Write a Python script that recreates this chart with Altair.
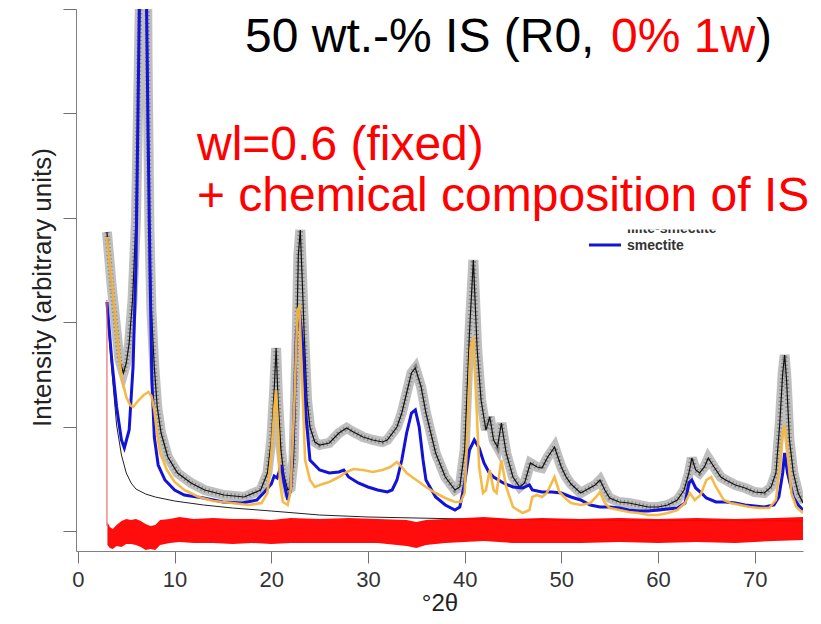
import altair as alt
import pandas as pd

# ---- data (x = degrees 2-theta, y = intensity, arbitrary units) ----
calc_x = [3.0, 3.5, 4.0, 4.3, 4.7, 5.0, 5.3, 5.65, 6.0, 6.2, 6.4, 6.6, 6.85, 7.05, 7.2, 7.4, 7.6, 7.9,
          8.2, 8.6, 9.3, 10.3, 11.7, 13.1, 15.1, 17.2, 18.9, 19.6, 20.0, 20.3, 20.5, 20.7, 21.0, 21.3,
          21.7, 22.0, 22.3, 22.6, 22.8, 23.0, 23.2, 23.4, 23.7, 24.0, 24.5, 25, 26, 27, 27.8, 28.5,
          29.5, 30.5, 31.5, 32, 33, 33.5, 34, 34.5, 34.9, 35.5, 36, 36.5, 37, 38, 39, 39.5, 40, 40.5,
          40.9, 41.3, 41.7, 42.2, 42.6, 43.0, 43.4, 43.8, 44.3, 45, 45.7, 46.2, 46.8, 47.5, 48, 48.6,
          49.3, 50, 50.5, 51, 52, 53.5, 54, 54.5, 55, 56, 57, 58, 59, 60, 61, 62, 62.7, 63.2, 63.5,
          63.9, 64.3, 64.8, 65.2, 65.8, 66.5, 67, 68, 69, 70, 71, 71.7, 72.2, 72.6, 72.9, 73.1, 73.3,
          73.6, 74, 74.5, 75]
calc_y = [299, 244, 198, 171, 158, 168, 188, 231, 311, 411, 523, 731, 881, 731, 471, 301, 221, 164,
          124, 98, 74, 58, 48, 41, 36, 34, 41, 58, 91, 141, 183, 131, 81, 56,
          41, 43, 71, 181, 276, 301, 251, 198, 131, 104, 89, 86, 88, 98, 103, 99,
          94, 91, 89, 91, 104, 118, 138, 158, 163, 144, 118, 98, 78, 54, 41, 44, 81, 198,
          271, 181, 131, 101, 114, 91, 84, 108, 78, 54, 44, 48, 68, 64, 63, 74,
          84, 64, 54, 47, 38, 46, 51, 41, 33, 29, 28, 26, 24, 24, 26, 31, 41, 58, 73,
          61, 58, 64, 73, 64, 54, 51, 46, 43, 39, 38, 44, 58, 108, 158, 176, 151,
          91, 58, 38, 28]

smec_x = [3.0, 3.5, 4.0, 4.5, 4.8, 5.3, 5.7, 6.0, 6.2, 6.35, 6.55, 6.75, 6.95, 7.1, 7.25, 7.45, 7.65,
          7.9, 8.3, 9.0, 10.0, 11.0, 13.0, 15.0, 17.0, 18.5, 19.3, 20.0, 20.3, 20.6, 21.05, 21.3, 21.7,
          22.0, 22.3, 22.6, 22.9, 23.3, 23.6, 24.0, 25, 26, 27, 27.5, 28, 29, 30, 31, 32, 32.5, 33,
          33.5, 34, 34.5, 34.9, 35.3, 35.7, 36, 37, 38, 39, 39.5, 40, 40.5, 41, 41.5, 42, 42.5, 43,
          44, 45, 46, 46.7, 47, 48, 49, 50, 51, 52, 53, 54, 55, 56, 57, 58, 59, 60, 61, 62, 62.8,
          63.2, 63.5, 63.9, 64.5, 65, 66, 67, 68, 69, 70, 71, 72, 72.5, 72.9, 73.1, 73.4, 74, 74.5, 75]
smec_y = [229, 171, 124, 91, 83, 101, 164, 264, 411, 523, 781, 931, 781, 523, 401, 264, 151,
          94, 66, 51, 41, 36, 33, 29, 28, 31, 39, 47, 55, 53, 66, 49, 31,
          41, 98, 198, 221, 181, 114, 71, 61, 58, 59, 61, 54, 48, 44, 41, 39, 41, 51,
          71, 98, 118, 121, 104, 71, 51, 34, 26, 21, 24, 48, 81, 91, 83, 68, 59, 54,
          48, 44, 43, 46, 41, 39, 39, 38, 34, 31, 26, 24, 24, 23, 21, 20, 20, 21, 22, 23, 28,
          48, 51, 43, 38, 33, 29, 29, 28, 26, 25, 24, 26, 34, 58, 78, 58, 34, 26, 21]

is_x = [3.0, 3.5, 4.0, 4.5, 5.0, 5.4, 5.7, 6.3, 6.8, 7.3, 7.6, 7.9, 8.2, 8.5, 9.2, 10.0, 11.0, 12.5,
        14.0, 16.0, 17.6, 19.0, 19.6, 20.0, 20.3, 20.5, 20.7, 20.9, 21.2, 21.7, 22.0, 22.4, 22.7,
        22.9, 23.2, 23.5, 24.0, 24.5, 25, 26, 27, 27.8, 28.5, 29.5, 30.5, 31.5, 32.3, 33.0, 33.5,
        34, 35, 36, 37, 38, 39, 39.6, 40.0, 40.3, 40.6, 40.9, 41.2, 41.5, 41.9, 42.2, 42.6, 43.0,
        43.3, 43.8, 44.3, 45, 46, 46.7, 47, 47.5, 48, 48.5, 49.3, 49.8, 50.5, 51, 52, 53, 53.6,
        54.0, 54.5, 55, 56, 57, 58, 59, 60, 61, 62, 62.8, 63.3, 63.8, 64.4, 65, 65.5, 66, 66.8,
        67.5, 68.5, 69.5, 70.5, 71.5, 72.2, 72.6, 72.9, 73.1, 73.4, 73.8, 74.3, 75]
is_y = [294, 248, 198, 154, 134, 126, 124, 131, 136, 139, 135, 121, 96, 78, 61, 49, 41, 34,
        30, 28, 26, 28, 38, 76, 121, 141, 101, 48, 29, 26, 41, 131, 221,
        224, 148, 71, 51, 44, 46, 49, 54, 59, 62, 61, 59, 61, 64, 69, 64,
        58, 51, 44, 38, 33, 29, 29, 38, 98, 181, 194, 131, 64, 38, 41, 61, 41,
        38, 71, 44, 24, 18, 21, 34, 36, 34, 38, 54, 39, 32, 28, 26, 28, 34,
        39, 28, 23, 21, 19, 18, 16, 16, 18, 21, 28, 38, 31, 36, 51, 54, 44, 31,
        28, 26, 24, 23, 23, 31, 64, 98, 106, 78, 38, 24, 18]

bkg_x = [3.0, 3.5, 4.0, 4.5, 5.0, 5.5, 6, 7, 8, 10, 13, 16, 20, 25, 30, 40, 50, 75]
bkg_y = [221, 161, 106, 76, 58, 48, 42, 37, 34, 30, 26, 23, 20, 16, 14, 12, 11, 10]

diff_x = [3.05, 3.3, 3.6, 4.0, 4.5, 5.0, 5.5, 6.0, 6.5, 7.0, 7.5, 8.0, 8.5, 9.5, 10.5, 12, 14, 16,
          18, 20, 22, 25, 28, 31, 34, 35, 36, 38, 40, 42, 45, 48, 52, 56, 60, 64, 68, 72, 75]
diff_hi = [9, 4, 2, 6, 10, 12, 11, 12, 10, 7, 5, 6, 11, 12, 14, 12, 13, 12,
           12, 11, 13, 12, 13, 12, 11, 9, 11, 12, 13, 14, 12, 13, 12, 13, 12, 13, 12, 13, 14]
diff_lo = [-14, -17, -18, -15, -16, -13, -13, -14, -16, -19, -18, -19, -14, -12, -11, -12, -12, -13,
           -12, -13, -12, -12, -12, -12, -15, -17, -14, -12, -11, -10, -12, -12, -12, -11, -12, -11, -12, -10, -9]
diff_start_x = [3.0, 3.0]
diff_start_y = [231, 5]

x_ticks = [0, 10, 20, 30, 40, 50, 60, 70]
y_ticks = [0, 104.4, 208.8, 313.2, 417.6, 522]

FONT = "Liberation Sans"

xs = alt.Scale(domain=[-0.2, 75], nice=False, zero=False)
ys = alt.Scale(domain=[-20, 522], nice=False, zero=False)
xaxis = alt.Axis(title="°2θ", values=x_ticks, format="d", tickSize=12, labelFontSize=22,
                 labelFont=FONT, labelColor="#333333", labelPadding=6, titleFont=FONT,
                 titleFontSize=24, titleFontWeight="normal", titleColor="#222222", titlePadding=1,
                 domainColor="#808080", tickColor="#707070", grid=False)
yaxis = alt.Axis(title="Intensity (arbitrary units)", values=y_ticks, labels=False, tickSize=13,
                 titleFont=FONT, titleFontSize=26, titleFontWeight="normal", titleColor="#222222",
                 titleAngle=-90, titleX=-26, titleY=278, titleAlign="center",
                 titleBaseline="alphabetic", domainColor="#808080", tickColor="#707070", grid=False)

X = alt.X("x:Q", scale=xs, axis=xaxis)
Y = alt.Y("y:Q", scale=ys, axis=yaxis)


def frame(x, y):
    return pd.DataFrame({"x": x, "y": y})


obs = alt.Chart(frame(calc_x, calc_y)).mark_line(color="#aaaaaa", strokeWidth=10, opacity=0.75,
                                                  clip=True).encode(x=X, y=Y)
obs_dots = alt.Chart(frame(calc_x, calc_y)).mark_line(color="#6e6e6e", strokeWidth=5, opacity=0.7,
                                                       strokeDash=[1.2, 2.6], clip=True).encode(x=X, y=Y)
bkg = alt.Chart(frame(bkg_x, bkg_y)).mark_line(color="#222222", strokeWidth=1, clip=True).encode(x=X, y=Y)
smec = alt.Chart(frame(smec_x, smec_y)).mark_line(color="#1212d8", strokeWidth=3, clip=True).encode(x=X, y=Y)
isl = alt.Chart(frame(is_x, is_y)).mark_line(color="#f4b740", strokeWidth=2.6, opacity=0.95,
                                              clip=True).encode(x=X, y=Y)
calc = alt.Chart(frame(calc_x, calc_y)).mark_line(color="#111111", strokeWidth=1.2, clip=True).encode(x=X, y=Y)
diff = alt.Chart(pd.DataFrame({"x": diff_x, "hi": diff_hi, "lo": diff_lo})).mark_area(
    color="#ff0000", opacity=0.95, clip=True).encode(x=X, y=alt.Y("hi:Q", scale=ys, axis=yaxis), y2="lo:Q")
diff0 = alt.Chart(frame(diff_start_x, diff_start_y)).mark_line(color="#e87070", strokeWidth=1.2,
                                                                clip=True).encode(x=X, y=Y)

OX, OY = 76, 9  # plot origin on the page


def label(text, px, py, color, size, weight="normal"):
    return alt.Chart(pd.DataFrame({"t": [text]})).mark_text(
        align="left", baseline="alphabetic", font=FONT, fontSize=size, fontWeight=weight, color=color
    ).encode(text="t:N", x=alt.value(px - OX), y=alt.value(py - OY))


t1 = label("50 wt.-% IS (R0,", 245, 52, "#000000", 48)
t2 = label("0% 1w", 611, 52, "#ff0000", 48)
t3 = label(")", 756, 52, "#000000", 48)
t4 = label("wl=0.6 (fixed)", 197, 160, "#ff0000", 48)
t5 = label("+ chemical composition of IS", 197, 211, "#ff0000", 48)

leg_cut = label("illite-smectite", 627, 233, "#333333", 14, "bold")
leg_mask = alt.Chart(pd.DataFrame({"a": [0]})).mark_rect(color="white").encode(
    x=alt.value(620 - OX), x2=alt.value(730 - OX), y=alt.value(216 - OY), y2=alt.value(229.5 - OY))
leg_line = alt.Chart(pd.DataFrame({"a": [0]})).mark_rule(color="#1212d8", strokeWidth=3).encode(
    x=alt.value(589 - OX), x2=alt.value(621 - OX), y=alt.value(245 - OY))
leg_text = label("smectite", 627, 250, "#333333", 14, "bold")

chart = alt.layer(
    obs, obs_dots, bkg, calc, smec, isl, diff, diff0,
    leg_cut, leg_mask, leg_line, leg_text, t1, t2, t3, t4, t5
).properties(
    width=727, height=542,
    autosize=alt.AutoSizeParams(type="none"),
    padding={"left": 68, "top": 1, "right": 8, "bottom": 64},
    background="white",
).configure_view(stroke=None)

chart.save("out.html", embed_options={"renderer": "svg", "actions": False})
